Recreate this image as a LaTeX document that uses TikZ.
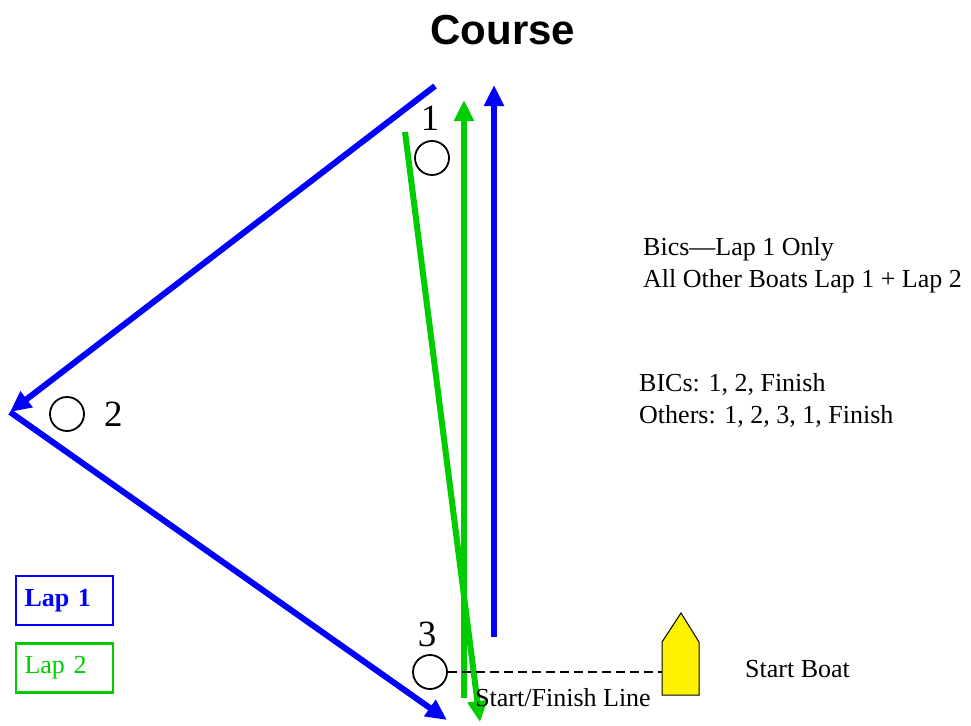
\documentclass[tikz,border=0pt]{standalone}
\usepackage{fontspec}
\setmainfont{Liberation Serif}
\newfontfamily\headfont{Liberation Sans}
\usetikzlibrary{arrows.meta,positioning}
\definecolor{lapblue}{RGB}{0,0,255}
\definecolor{lapgreen}{RGB}{0,204,0}

\begin{document}
\begin{tikzpicture}
      [x=1pt, y=-1pt, >={Triangle[length=21pt,width=19pt]},
      lapone/.style={draw=lapblue, line width=6pt},
      laptwo/.style={draw=lapgreen, line width=6pt},
      buoy/.style={circle, draw, line width=1.8pt, minimum size=34pt, inner sep=0pt},
      number/.style={font=\fontsize{37}{40}\selectfont, inner sep=1pt},
      note/.style={font=\fontsize{26}{32}\selectfont, align=left, inner sep=0pt},
      legend/.style={rectangle, line width=2.5pt, minimum width=97pt, minimum height=49pt,
        text width=80pt, align=left, font=\fontsize{26}{30}\selectfont}]

      \useasboundingbox (0,0) rectangle (971,725);

      \node [font=\headfont\bfseries\fontsize{42}{44}\selectfont] (title) at (503,30) {Course};

      % marks
      \node [buoy] (m1) at (432,158) {};
      \node [number, above=8pt of m1, xshift=-2pt] (n1) {1};
      \node [buoy] (m2) at (67,414) {};
      \node [number, right=18pt of m2] (n2) {2};
      \node [buoy] (m3) at (430,672) {};
      \node [number, above=6pt of m3, xshift=-3pt] (n3) {3};

      % lap 1
      \coordinate (a1) at (435,86);
      \coordinate (a2) at (10,412);
      \coordinate (a3) at (447,720);
      \coordinate (a4) at (494,637);
      \coordinate (a5) at (494,85);
      \draw [lapone, ->] (a1) -- (a2);
      \draw [lapone, ->] (a2) -- (a3);
      \draw [lapone, ->] (a4) -- (a5);

      % lap 2
      \coordinate (b1) at (464,698);
      \coordinate (b2) at (464,100);
      \coordinate (b3) at (405,132);
      \coordinate (b4) at (480,722);
      \draw [laptwo, ->] (b1) -- (b2);
      \draw [laptwo, ->] (b3) -- (b4);

      % start boat
      \coordinate (boat) at (662,672);
      \draw [fill=yellow, line width=1pt] (662,642) -- (681,613) -- (699,642)
        -- (699,695) -- (662,695) -- cycle;
      \draw [dashed, line width=1.5pt, dash pattern=on 9pt off 5pt] (m3.east) -- (boat);
      \node [note, anchor=west] (sb) at (745,669) {Start Boat};
      \node [note] (line) at (563,698) {Start/Finish Line};

      % notes
      \node [note, anchor=west] (laps) at (643,265) {Bics---Lap 1 Only\\All Other Boats Lap 1 + Lap 2};
      \node [note, anchor=west] (order) at (639,400) {BICs: 1, 2, Finish\\Others: 1, 2, 3, 1, Finish};

      % legend
      \node [legend, draw=lapblue, text=lapblue, font=\fontsize{26}{30}\selectfont\bfseries]
        (l1) at (64.5,600.5) {Lap 1};
      \node [legend, draw=lapgreen, text=lapgreen, below=16pt of l1] (l2) {Lap 2};
    \end{tikzpicture}
\end{document}
